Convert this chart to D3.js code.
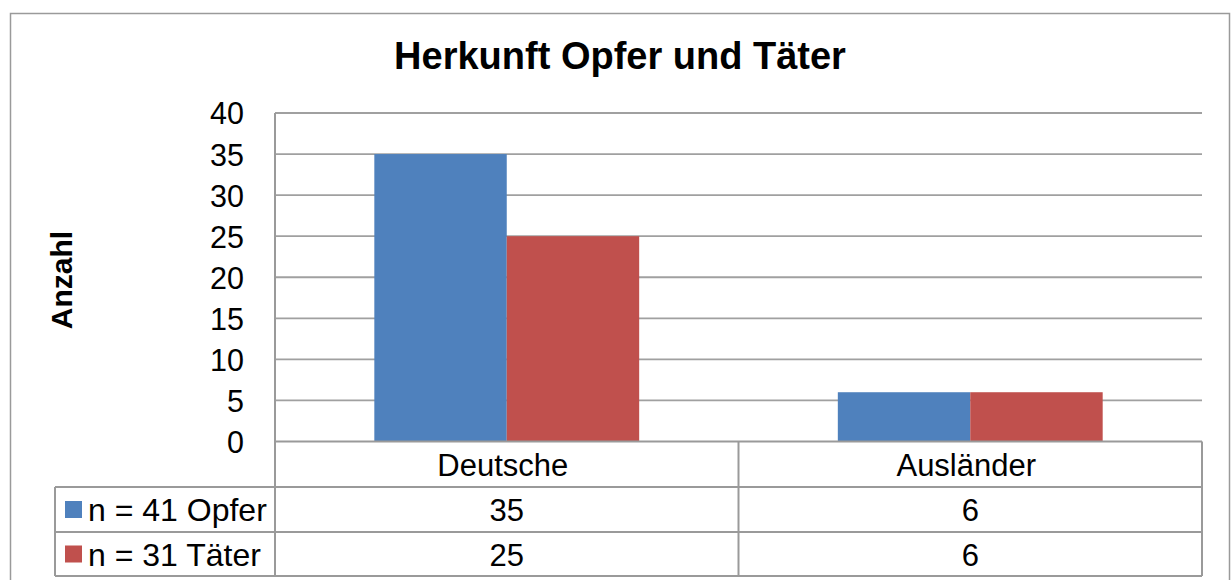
<!DOCTYPE html>
<html>
<head>
<meta charset="utf-8">
<script src="https://cdn.jsdelivr.net/npm/d3@7"></script>
<style>
  html, body { margin: 0; padding: 0; background: #fff; }
  svg { display: block; font-family: "Liberation Sans", Arial, sans-serif; }
</style>
</head>
<body>
<svg id="chart" width="1231" height="580"></svg>
<script>
const title = "Herkunft Opfer und Täter";
const yTitle = "Anzahl";
const categories = ["Deutsche", "Ausländer"];
const seriesNames = ["n = 41 Opfer", "n = 31 Täter"];
const opfer = [35, 6];
const taeter = [25, 6];
const seriesColors = ["#4F81BD", "#C0504D"];
const yTicks = [0, 5, 10, 15, 20, 25, 30, 35, 40];

const seriesValues = [opfer, taeter];

const svg = d3.select("#chart");

// chart frame
svg.append("rect")
  .attr("x", 10.5).attr("y", 13.5)
  .attr("width", 1219).attr("height", 620)
  .attr("fill", "#fff").attr("stroke", "#9a9a9a").attr("stroke-width", 1.5);

const plot = { left: 275, right: 1202, top: 113, bottom: 441.5 };
const tableLeft = 55;
const rowBottoms = [487, 532, 576];

const y = d3.scaleLinear().domain([0, 40]).range([plot.bottom, plot.top]);
const x0 = d3.scaleBand().domain(categories).range([plot.left, plot.right]).padding(0);
const inner = x0.bandwidth() * 2 / 3.5;
const x1 = d3.scaleBand().domain(seriesNames)
  .range([(x0.bandwidth() - inner) / 2, (x0.bandwidth() + inner) / 2]).padding(0);

const gridColor = "#a0a0a0";

// gridlines
svg.append("g").selectAll("line").data(yTicks.filter(d => d > 0)).join("line")
  .attr("x1", plot.left).attr("x2", plot.right)
  .attr("y1", d => y(d)).attr("y2", d => y(d))
  .attr("stroke", gridColor).attr("stroke-width", 1.8);

// bars
const groups = svg.append("g").selectAll("g").data(categories).join("g")
  .attr("transform", d => `translate(${x0(d)},0)`);
groups.selectAll("rect")
  .data((c, ci) => seriesNames.map((s, si) => ({ s, si, v: seriesValues[si][ci] })))
  .join("rect")
  .attr("x", d => x1(d.s))
  .attr("width", x1.bandwidth())
  .attr("y", d => y(d.v))
  .attr("height", d => y(0) - y(d.v))
  .attr("fill", d => seriesColors[d.si]);

// y axis tick labels
const yAxis = d3.axisLeft(y).tickValues(yTicks).tickSize(0).tickPadding(31);
const ga = svg.append("g").attr("transform", `translate(${plot.left},0)`).call(yAxis);
ga.select(".domain").remove();
ga.selectAll("text").attr("font-size", 30.5).attr("fill", "#000")
  .attr("font-family", "'Liberation Sans', Arial, sans-serif")
  .attr("dy", "0.36em");

// y title
svg.append("text")
  .attr("transform", "translate(72,280) rotate(-90)")
  .attr("text-anchor", "middle")
  .attr("font-size", 30).attr("font-weight", "bold").attr("fill", "#000")
  .text(yTitle);

// chart title
svg.append("text")
  .attr("x", 620).attr("y", 69)
  .attr("text-anchor", "middle")
  .attr("font-size", 38).attr("font-weight", "bold").attr("fill", "#000")
  .text(title);

// data table lines
const lc = "#9a9a9a", lw = 2;
const tl = svg.append("g").attr("stroke", lc).attr("stroke-width", lw).attr("fill", "none");
tl.append("line").attr("x1", plot.left).attr("x2", plot.right).attr("y1", plot.bottom).attr("y2", plot.bottom);
rowBottoms.forEach(rb => {
  tl.append("line").attr("x1", tableLeft).attr("x2", plot.right).attr("y1", rb).attr("y2", rb);
});
tl.append("line").attr("x1", plot.left).attr("x2", plot.left).attr("y1", plot.top).attr("y2", rowBottoms[2]);
tl.append("line").attr("x1", tableLeft).attr("x2", tableLeft).attr("y1", rowBottoms[0]).attr("y2", rowBottoms[2]);
tl.append("line").attr("x1", x0(categories[1])).attr("x2", x0(categories[1])).attr("y1", plot.bottom).attr("y2", rowBottoms[2]);
tl.append("line").attr("x1", plot.right).attr("x2", plot.right).attr("y1", plot.bottom).attr("y2", rowBottoms[2]);

const rowTops = [plot.bottom, rowBottoms[0], rowBottoms[1]];
const rowMid = i => (rowTops[i] + rowBottoms[i]) / 2;

// category labels
svg.append("g").selectAll("text").data(categories).join("text")
  .attr("x", d => x0(d) + x0.bandwidth() / 2 - 4)
  .attr("y", rowMid(0) + 11.5)
  .attr("text-anchor", "middle").attr("font-size", 31).attr("fill", "#000")
  .text(d => d);

// values rows + legend keys
seriesNames.forEach((s, si) => {
  svg.append("g").selectAll("text").data(categories).join("text")
    .attr("x", d => x0(d) + x0.bandwidth() / 2)
    .attr("y", rowMid(si + 1) + 11.5)
    .attr("text-anchor", "middle").attr("font-size", 31).attr("fill", "#000")
    .text((d, ci) => seriesValues[si][ci]);
  svg.append("rect")
    .attr("x", 65).attr("y", rowMid(si + 1) - 8.5)
    .attr("width", 17).attr("height", 17)
    .attr("fill", seriesColors[si]);
  svg.append("text")
    .attr("x", 88).attr("y", rowMid(si + 1) + 11.5)
    .attr("font-size", 32).attr("fill", "#000")
    .text(s);
});
</script>
</body>
</html>
